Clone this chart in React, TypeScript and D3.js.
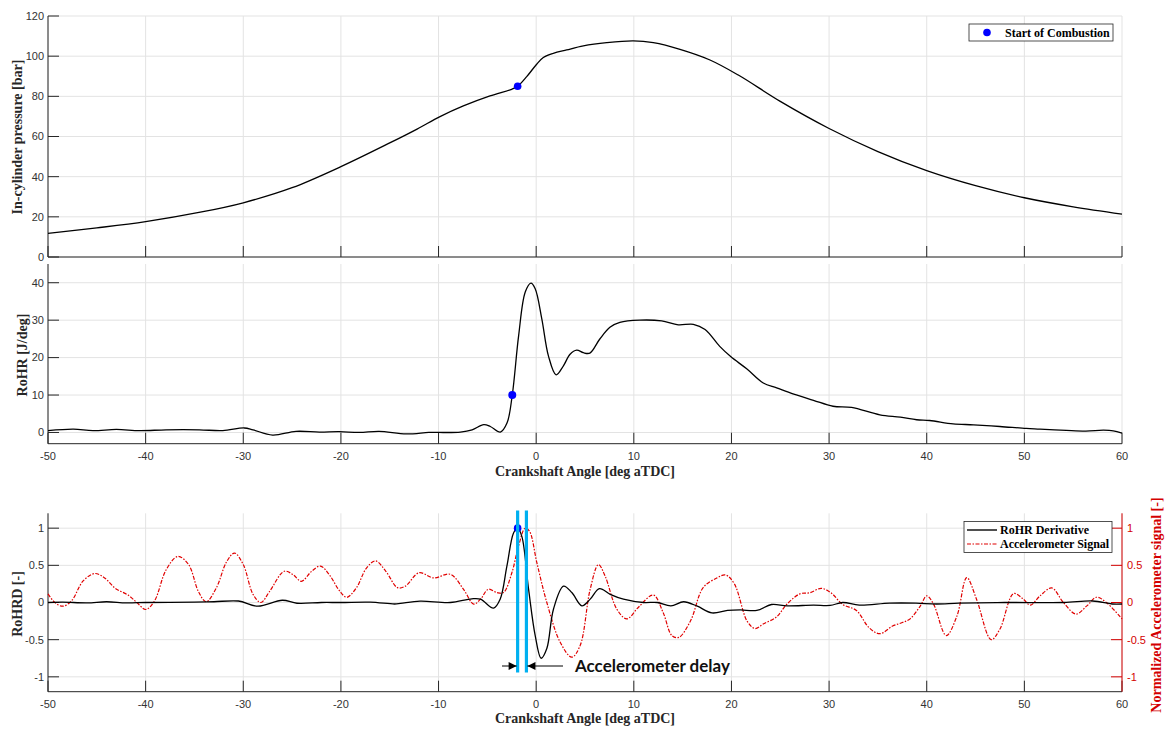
import React from "react";
import * as d3 from "d3";

// crank angle axis
const angleTicks = [-50, -40, -30, -20, -10, 0, 10, 20, 30, 40, 50, 60];

// in-cylinder pressure [bar]
const pressureAngle = [-50, -45, -40, -34.4, -30, -25, -20, -15, -12.2, -9.85, -7.46, -4.73, -2.51, -1.9, -0.97, 0.05, 0.73, 1.75, 3.12, 4.83, 7.22, 9.95, 12, 14.73, 17.8, 20.7, 25, 30, 35, 40, 45, 50, 55, 60];
const pressureVal = [11.8, 14.5, 17.6, 22.3, 27, 34.5, 45, 56.8, 63.7, 69.9, 75.2, 80.2, 83.5, 85, 89.8, 96, 99.3, 101.4, 103.1, 105.1, 106.7, 107.6, 106.7, 103.4, 98.1, 90.6, 77.5, 64, 52.5, 43, 35.5, 29.5, 25, 21.4];
const pressureTicks = [0, 20, 40, 60, 80, 100, 120];
const socPressure = { angle: -1.9, value: 85 };

// rate of heat release [J/deg]
const rohrAngle = [-50, -47.4, -45.4, -43, -40.6, -37.9, -34.5, -32.1, -29.9, -29, -27, -24.6, -22.2, -20.2, -18.1, -16.1, -13.3, -11, -10.1, -7.76, -6.56, -5.37, -4.7, -3.67, -2.99, -2.45, -1.8, -1.12, -0.54, -0.1, 0.58, 1.26, 2.04, 2.79, 3.47, 4.15, 4.83, 5.5, 6.5, 7.55, 8.57, 10.6, 12.85, 14.55, 16.1, 17.3, 18.8, 19.95, 21.56, 23.26, 24.63, 26.3, 28.4, 30.4, 32.3, 35.2, 37.3, 38.97, 40.3, 42.7, 44.8, 47.5, 50.2, 51.6, 54.3, 56.3, 58.1, 59.1, 60];
const rohrVal = [0.5, 0.9, 0.5, 0.8, 0.5, 0.7, 0.7, 0.5, 1.2, 0.7, -0.7, 0.3, 0.1, 0.2, 0, 0.3, -0.4, 0, 0, 0.1, 0.7, 2.1, 1.6, 0.1, 2.5, 10, 25.8, 37.5, 39.9, 38.4, 30.3, 20.4, 15.4, 17.8, 20.9, 22, 21.3, 21.2, 24.9, 28.1, 29.4, 30, 29.8, 28.75, 28.9, 27.5, 23, 20.2, 17, 13.2, 11.9, 10.3, 8.6, 7, 6.7, 4.7, 4.1, 3.4, 3.2, 2.3, 2.05, 1.6, 1.07, 0.9, 0.54, 0.36, 0.6, 0.45, -0.2];
const rohrTicks = [0, 10, 20, 30, 40];
const socRohr = { angle: -2.45, value: 10 };

// RoHR derivative [-]
const rohrdAngle = [-50, -48.5, -46, -44, -42, -40, -35, -33, -30.5, -28.5, -26, -24.5, -22, -20, -17, -14.5, -13.9, -11.9, -8.8, -6.6, -5.7, -4.37, -3.69, -3.0, -2.32, -1.91, -1.47, -0.78, -0.1, 0.51, 1.09, 1.77, 2.8, 3.65, 4.68, 5.53, 6.48, 7.58, 8.94, 10.99, 12.4, 13.8, 15.1, 16.5, 18.0, 19.6, 20.9, 22.6, 24.1, 25.7, 28.4, 30.1, 31.4, 33.1, 36.2, 38.9, 41, 43.3, 48, 54, 57, 59, 60];
const rohrdVal = [0, 0.005, -0.005, 0.01, -0.005, 0, 0.005, 0.01, 0.02, -0.05, 0.03, -0.01, 0, 0, 0.005, -0.02, -0.013, 0.018, 0, 0.05, 0.045, -0.076, 0.045, 0.49, 0.935, 1.0, 0.89, 0.18, -0.445, -0.75, -0.62, -0.09, 0.22, 0.134, -0.045, 0.045, 0.187, 0.11, 0.045, 0, 0, -0.045, 0.01, -0.05, -0.14, -0.107, -0.1, -0.107, -0.027, -0.045, -0.036, -0.04, 0, -0.036, -0.009, -0.009, -0.02, -0.009, 0, 0, 0.02, -0.02, -0.02];

// normalized accelerometer signal [-]
const accelAngle = [-50, -49.3, -48.5, -47.6, -46.4, -45.2, -44.2, -43.1, -41.8, -40.9, -40, -39.1, -37.9, -36.7, -35.6, -34.6, -33.8, -32.75, -31.7, -30.9, -30, -29, -28.2, -27.3, -25.8, -24.9, -24.05, -23, -22.1, -21.2, -20.1, -19.4, -18.4, -17.4, -16.45, -15.4, -14.2, -13.4, -12, -10.5, -8.8, -7.44, -6.4, -5.7, -4.9, -4.03, -3.34, -2.49, -1.81, -1.13, -0.68, 0.07, 1.09, 2.46, 3.65, 4.5, 5.53, 6.38, 7.06, 8.26, 9.28, 10.5, 12.0, 13.0, 13.9, 14.6, 15.8, 17.1, 18.5, 19.4, 20.3, 21.6, 22.4, 23.3, 24.6, 25.65, 27.0, 28.0, 29.2, 30.2, 31.4, 32.8, 34.1, 35.2, 36.5, 37.5, 38.3, 39.35, 40, 40.7, 42, 43.1, 44.1, 45.1, 46.6, 47.5, 48.9, 49.9, 50.6, 51.6, 52.8, 54, 55.3, 56.4, 57.4, 58.4, 60];
const accelVal = [0.116, 0, -0.05, 0.02, 0.29, 0.39, 0.33, 0.19, 0.1, 0, -0.094, 0.02, 0.44, 0.62, 0.51, 0.15, 0.01, 0.2, 0.55, 0.665, 0.51, 0.11, 0, 0.15, 0.42, 0.375, 0.285, 0.42, 0.49, 0.375, 0.15, 0.07, 0.2, 0.46, 0.56, 0.42, 0.2, 0.22, 0.4, 0.33, 0.38, 0.178, -0.022, 0.045, 0.178, 0.134, 0.134, 0.4, 0.757, 1.0, 0.958, 0.535, 0, -0.535, -0.735, -0.58, 0.178, 0.51, 0.356, -0.09, -0.22, -0.06, 0.1, -0.134, -0.445, -0.47, -0.25, 0.2, 0.33, 0.37, 0.25, -0.25, -0.35, -0.286, -0.196, -0.027, 0.116, 0.13, 0.19, 0.13, -0.027, -0.107, -0.34, -0.42, -0.317, -0.27, -0.22, -0.045, 0.089, -0.022, -0.445, -0.18, 0.334, 0.045, -0.5, -0.356, 0.12, 0.045, -0.036, 0.089, 0.196, 0, -0.156, -0.045, 0.071, 0, -0.22];
const normTicks = [-1, -0.5, 0, 0.5, 1];
const socRohrd = { angle: -1.9, value: 1.0 };

// delay markers
const delayStart = -1.9;
const delayEnd = -1.0;

const W = 1173;
const H = 729;
const left = 48;
const right = 1122;
const axisColor = "#262626";
const gridColor = "#e3e3e3";
const tickFont = "'Liberation Sans', Arial, sans-serif";
const labelFont = "'Liberation Serif', 'Times New Roman', serif";

const x = d3.scaleLinear().domain([-50, 60]).range([left, right]);
const yP = d3.scaleLinear().domain([0, 120]).range([257, 16]);
const yR = d3.scaleLinear().domain([-3, 45]).range([443.7, 264]);
const yD = d3.scaleLinear().domain([-1.2, 1.2]).range([691.7, 513.3]);

const zip = (a: number[], b: number[]) => a.map((v, i) => [v, b[i]] as [number, number]);

const makeLine = (ys: d3.ScaleLinear<number, number>) =>
  d3
    .line<[number, number]>()
    .x((d) => x(d[0]))
    .y((d) => ys(d[1]))
    .curve(d3.curveCatmullRom.alpha(0.5));

function Panel({ ys, ticks, xLabels }: { ys: d3.ScaleLinear<number, number>; ticks: number[]; xLabels: boolean }) {
  const [y0, y1] = ys.range();
  return (
    <g>
      {/* grid */}
      {angleTicks.map((t) => (
        <line key={"vx" + t} x1={x(t)} x2={x(t)} y1={y0} y2={y1} stroke={gridColor} strokeWidth={1} />
      ))}
      {ticks.map((t) => (
        <line key={"hy" + t} x1={left} x2={right} y1={ys(t)} y2={ys(t)} stroke={gridColor} strokeWidth={1} />
      ))}
      {/* axes */}
      <line x1={left} x2={left} y1={y0} y2={y1} stroke={axisColor} strokeWidth={1} />
      <line x1={left} x2={right} y1={y0} y2={y0} stroke={axisColor} strokeWidth={1} />
      {angleTicks.map((t) => (
        <line key={"xt" + t} x1={x(t)} x2={x(t)} y1={y0} y2={y0 - 11} stroke={axisColor} strokeWidth={1} />
      ))}
      {ticks.map((t) => (
        <g key={"yt" + t}>
          <line x1={left} x2={left + 11} y1={ys(t)} y2={ys(t)} stroke={axisColor} strokeWidth={1} />
          <text x={left - 4} y={ys(t)} dy="0.35em" textAnchor="end" fontFamily={tickFont} fontSize={11} fill="#333">
            {t}
          </text>
        </g>
      ))}
      {xLabels &&
        angleTicks.map((t) => (
          <text key={"xl" + t} x={x(t)} y={y0 + 16} textAnchor="middle" fontFamily={tickFont} fontSize={11} fill="#333">
            {t}
          </text>
        ))}
    </g>
  );
}

export default function App() {
  const pLine = makeLine(yP)(zip(pressureAngle, pressureVal)) || "";
  const rLine = makeLine(yR)(zip(rohrAngle, rohrVal)) || "";
  const dLine = makeLine(yD)(zip(rohrdAngle, rohrdVal)) || "";
  const aLine = makeLine(yD)(zip(accelAngle, accelVal)) || "";
  const arrowY = 666;

  return (
    <svg width={W} height={H} style={{ position: "absolute", left: 0, top: 0, background: "#fff" }}>
      <defs>
        <marker id="arrow" viewBox="0 0 10 10" refX="10" refY="5" markerWidth="9" markerHeight="8" markerUnits="userSpaceOnUse" orient="auto">
          <path d="M0,0 L10,5 L0,10 z" fill="#000" />
        </marker>
      </defs>

      {/* top: pressure */}
      <Panel ys={yP} ticks={pressureTicks} xLabels={false} />
      <path d={pLine} fill="none" stroke="#000" strokeWidth={1.3} />
      <circle cx={x(socPressure.angle)} cy={yP(socPressure.value)} r={3.8} fill="#0000ff" />
      <text transform={`translate(22,137) rotate(-90)`} textAnchor="middle" fontFamily={labelFont} fontWeight="bold" fontSize={14} fill={axisColor}>
        In-cylinder pressure [bar]
      </text>
      <rect x={969} y={24} width={144} height={17} fill="#fff" stroke={axisColor} strokeWidth={0.8} />
      <circle cx={987} cy={32.5} r={3.8} fill="#0000ff" />
      <text x={1005} y={37} fontFamily={labelFont} fontWeight="bold" fontSize={12} fill="#000">
        Start of Combustion
      </text>

      {/* middle: RoHR */}
      <Panel ys={yR} ticks={rohrTicks} xLabels={true} />
      <path d={rLine} fill="none" stroke="#000" strokeWidth={1.3} />
      <circle cx={x(socRohr.angle)} cy={yR(socRohr.value)} r={4} fill="#0000ff" />
      <text transform={`translate(27,355) rotate(-90)`} textAnchor="middle" fontFamily={labelFont} fontWeight="bold" fontSize={14} fill={axisColor}>
        RoHR [J/deg]
      </text>
      <text x={585} y={476} textAnchor="middle" fontFamily={labelFont} fontWeight="bold" fontSize={14} fill={axisColor}>
        Crankshaft Angle [deg aTDC]
      </text>

      {/* bottom: RoHRD + accelerometer */}
      <Panel ys={yD} ticks={normTicks} xLabels={true} />
      {/* right axis */}
      <line x1={right} x2={right} y1={691.7} y2={513.3} stroke="#d40000" strokeWidth={1} />
      {normTicks.map((t) => (
        <g key={"rt" + t}>
          <line x1={right} x2={right - 11} y1={yD(t)} y2={yD(t)} stroke="#d40000" strokeWidth={1} />
          <text x={right + 5} y={yD(t)} dy="0.35em" textAnchor="start" fontFamily={tickFont} fontSize={11} fill="#d40000">
            {t}
          </text>
        </g>
      ))}
      <path d={aLine} fill="none" stroke="#e00000" strokeWidth={1.2} strokeDasharray="4,1.5,1.5,1.5" />
      <path d={dLine} fill="none" stroke="#000" strokeWidth={1.3} />
      <circle cx={x(socRohrd.angle)} cy={yD(socRohrd.value)} r={3.8} fill="#0000ff" />
      <line x1={x(delayStart)} x2={x(delayStart)} y1={510.5} y2={672.5} stroke="#00b0f0" strokeWidth={3.2} />
      <line x1={x(delayEnd)} x2={x(delayEnd)} y1={510.5} y2={672.5} stroke="#00b0f0" strokeWidth={3.2} />
      <line x1={502} x2={x(delayStart) - 1} y1={arrowY} y2={arrowY} stroke="#000" strokeWidth={1} markerEnd="url(#arrow)" />
      <line x1={563} x2={x(delayEnd) + 1} y1={arrowY} y2={arrowY} stroke="#000" strokeWidth={1} markerEnd="url(#arrow)" />
      <text x={575} y={672} fontFamily="Lato, 'Open Sans', sans-serif" fontWeight="bold" fontSize={17} fill="#111">
        Accelerometer delay
      </text>
      <text transform={`translate(22,604) rotate(-90)`} textAnchor="middle" fontFamily={labelFont} fontWeight="bold" fontSize={14} fill={axisColor}>
        RoHRD [-]
      </text>
      <text transform={`translate(1161,605) rotate(-90)`} textAnchor="middle" fontFamily={labelFont} fontWeight="bold" fontSize={14} fill="#d40000">
        Normalized Accelerometer signal [-]
      </text>
      <text x={585} y={723} textAnchor="middle" fontFamily={labelFont} fontWeight="bold" fontSize={14} fill={axisColor}>
        Crankshaft Angle [deg aTDC]
      </text>
      {/* legend */}
      <rect x={964} y={521.5} width={148} height={31} fill="#fff" stroke={axisColor} strokeWidth={0.8} />
      <line x1={967} x2={997} y1={530} y2={530} stroke="#222" strokeWidth={1.6} />
      <line x1={967} x2={997} y1={544} y2={544} stroke="#e00000" strokeWidth={1.2} strokeDasharray="4,1.5,1.5,1.5" />
      <text x={1000} y={534} fontFamily={labelFont} fontWeight="bold" fontSize={12} fill="#000">
        RoHR Derivative
      </text>
      <text x={1000} y={548} fontFamily={labelFont} fontWeight="bold" fontSize={12} fill="#000">
        Accelerometer Signal
      </text>
    </svg>
  );
}
